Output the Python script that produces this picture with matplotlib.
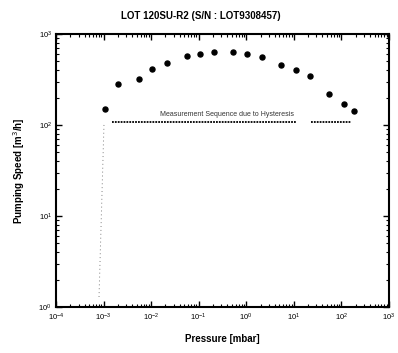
#!/usr/bin/env python3

import matplotlib
matplotlib.use('Agg')
import matplotlib.pyplot as plt
from matplotlib.ticker import LogLocator, NullFormatter

# measured pumping speed curve
pressure = [1.07e-3, 2.05e-3, 5.6e-3, 0.0106, 0.0219, 0.0558, 0.106, 0.213, 0.533,
            1.02, 2.17, 5.37, 10.9, 21.9, 55.6, 112, 184]
speed = [150, 280, 318, 409, 480, 573, 608, 639, 639,
         603, 555, 456, 402, 345, 219, 170, 143]

# hysteresis sequence markers
seq1_x = [1.5e-3, 11]
seq2_x = [23, 160]
seq_y = 108
guide_x = [1.02e-3, 8e-4]
guide_y = [100, 1.2]


def main():
    plt.rcParams['font.family'] = ['Liberation Sans', 'DejaVu Sans']
    fig = plt.figure(figsize=(3.98, 3.53), dpi=100)
    ax = fig.add_axes([0.1407, 0.130, 0.8363, 0.774])

    ax.plot(pressure, speed, 'o', color='black', markersize=3.6)
    ax.plot(seq1_x, [seq_y, seq_y], color='black', lw=1.3, linestyle=(0, (1, 0.6)))
    ax.plot(seq2_x, [seq_y, seq_y], color='black', lw=1.3, linestyle=(0, (1, 0.6)))
    ax.plot(guide_x, guide_y, color='gray', lw=0.7, linestyle=(0, (1, 3)))
    ax.text(0.4, 118, 'Measurement Sequence due to Hysteresis', fontsize=5,
            ha='center', va='bottom', color='#333333')

    ax.set_xscale('log')
    ax.set_yscale('log')
    ax.set_xlim(1e-4, 1e3)
    ax.set_ylim(1, 1e3)

    for a in (ax.xaxis, ax.yaxis):
        a.set_major_locator(LogLocator(base=10, numticks=20))
        a.set_minor_locator(LogLocator(base=10, subs=range(2, 10), numticks=20))
        a.set_minor_formatter(NullFormatter())
    ax.tick_params(which='both', direction='in', top=True, right=True, labelsize=5.5, pad=3)
    ax.tick_params(which='major', length=4, width=1)
    ax.tick_params(which='minor', length=2, width=0.8)
    for s in ax.spines.values():
        s.set_linewidth(1.5)

    fig.text(0.505, 0.955, 'LOT 120SU-R2 (S/N : LOT9308457)', fontsize=7,
             fontweight='bold', ha='center', va='center')
    ax.set_xlabel('Pressure [mbar]', fontsize=7, fontweight='bold', labelpad=8)
    ax.set_ylabel('Pumping Speed [m$^3$/h]', fontsize=7, fontweight='bold', labelpad=8)

    fig.savefig('out.png', dpi=100)


if __name__ == '__main__':
    main()
